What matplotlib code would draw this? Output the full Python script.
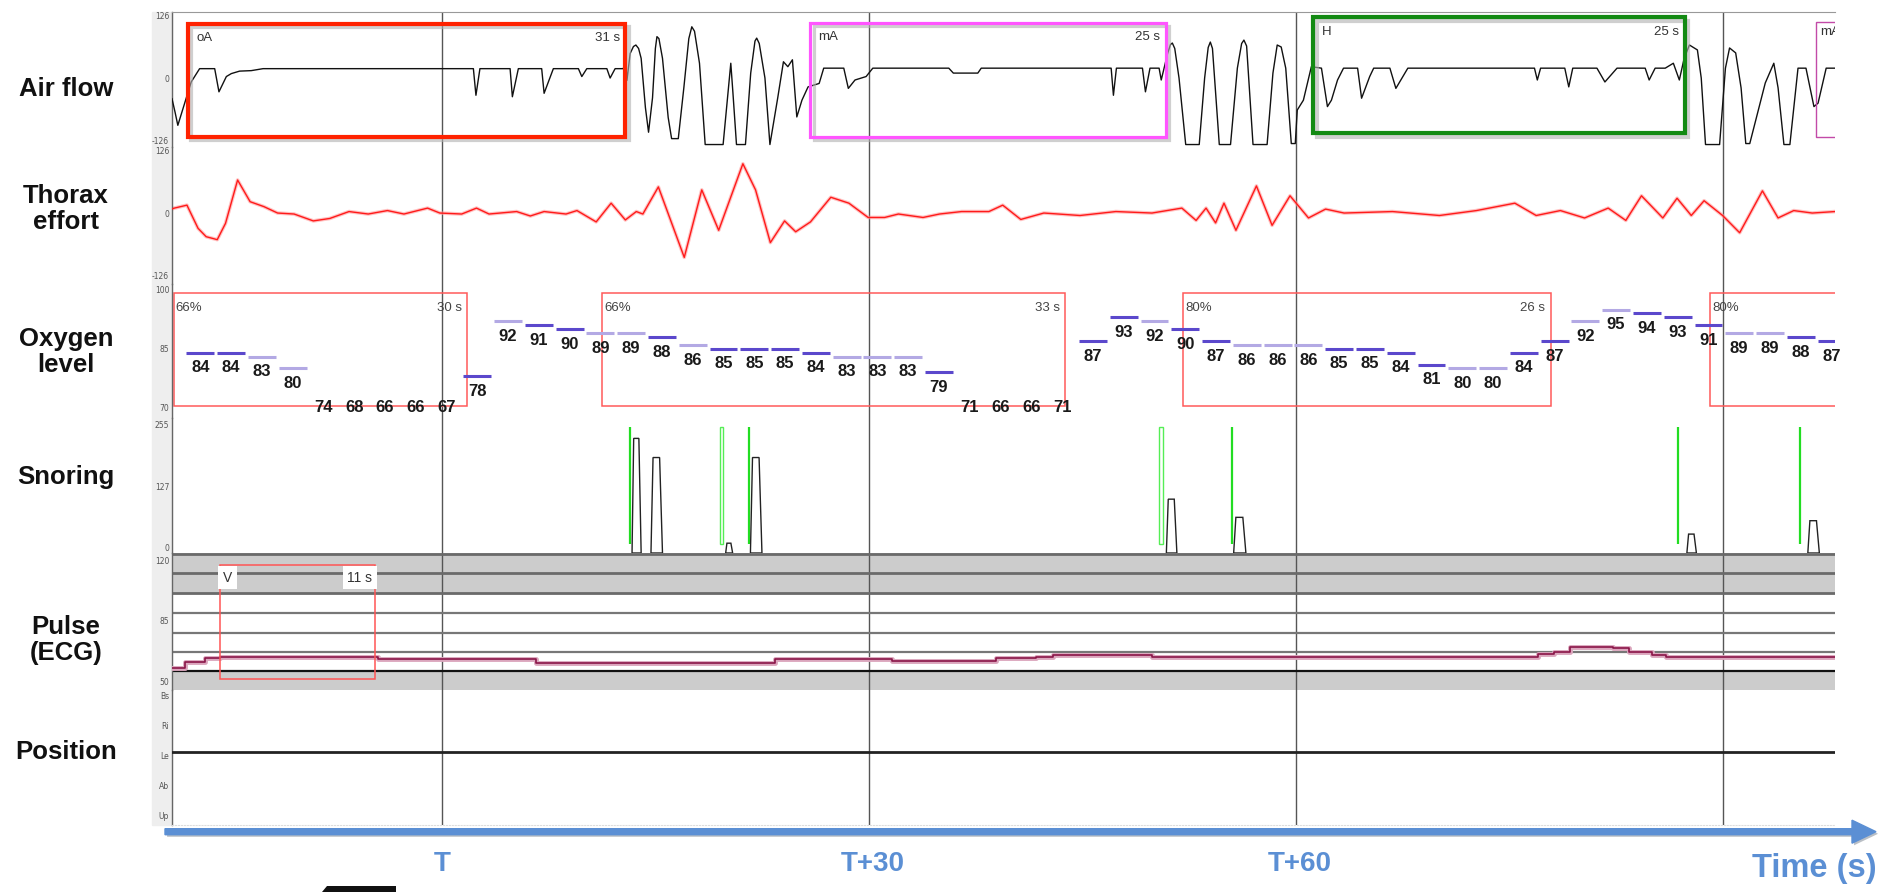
import numpy as np
import matplotlib
matplotlib.use("Agg")
import matplotlib.pyplot as plt
from matplotlib.patches import Rectangle, Polygon, FancyArrow
import matplotlib.patheffects as pe
import matplotlib.transforms as mtransforms

# ---------------- data ----------------
grid_times = [0, 30, 60, 90]
time_tick_t = [0, 30, 60]
time_tick_labels = ["T", "T+30", "T+60"]

airflow_t = [-18.97, -18.75, -18.56, -17.62, -17.03, -15.97, -15.67, -15.15, -14.80, -14.22, -13.4, -12.57,
             2.21, 2.39, 2.67, 4.79, 4.95, 5.37, 7.01, 7.18, 7.83, 9.59, 9.83, 10.18, 11.59, 11.82, 12.17,
             12.75, 12.9, 13.0, 13.23, 13.46, 13.63, 13.82, 14.0, 14.3, 14.52, 14.8, 15.0, 15.11, 15.25, 15.5,
             15.9, 16.14, 16.61, 17.0, 17.35, 17.56, 17.75, 18.1, 18.50, 19.76, 20.1, 20.30, 20.45, 20.70,
             21.33, 21.7, 22.0, 22.12, 22.3, 22.7, 23.05, 23.6, 24.0, 24.31, 24.63, 24.94, 25.3, 25.73,
             26.51, 26.83, 28.24, 28.56, 29.03, 29.81, 30.28, 35.62, 35.94, 37.66, 37.9, 47.03, 47.19, 47.40,
             49.23, 49.44, 49.76, 50.4, 50.55, 51.0, 51.2, 51.33, 51.5, 51.8, 52.27, 53.22, 53.6, 53.85, 54.0,
             54.15, 54.63, 55.42, 55.9, 56.2, 56.36, 56.55, 57.0, 57.99, 58.4, 58.70, 58.98, 59.3, 59.69,
             59.97, 60.11, 60.54, 61.10, 61.81, 62.23, 62.51, 62.94, 63.36, 64.35, 64.63, 65.20, 65.48, 66.62,
             67.04, 67.88, 76.78, 76.98, 77.21, 78.91, 79.19, 79.47, 81.17, 81.73, 82.58, 84.56, 84.84, 85.26,
             85.97, 86.54, 86.96, 87.3, 87.67, 88.23, 88.5, 88.80, 89.79, 90.2, 90.49, 90.92, 91.3, 91.63,
             91.91, 93.0, 93.60, 93.9, 94.31, 94.73, 95.30, 95.86, 96.42, 96.71, 97.28, 97.9]
airflow_v = [-42, -70, -96, -8, 19, 19, -28, 3, 9, 14, 15, 19,
             19, -35, 19, 19, -38, 19, 19, -31, 19, 19, 3, 19, 19, 0, 19,
             19, 40, -5, 50, 64, 67, 60, 40, -60, -110, -40, 60, 84, 80, 40,
             -80, -123, -123, -20, 80, 104, 95, 30, -135, -135, -30, 30, -30, -135,
             -135, 10, 75, 81, 70, 0, -135, -40, 33, 23, 37, -79, -45, -18,
             -11, 20, 20, -21, -4, 3, 20, 20, 10, 10, 20, 20, -35, 20,
             20, -28, 20, 20, -4, 50, 68, 71, 60, 0, -135, -135, 0, 62, 73,
             60, -135, -135, 20, 70, 77, 65, -135, -135, 10, 67, 63, 20, -133,
             -133, -65, -45, 23, 20, -58, -45, -4, 20, 20, -41, 3, 20, 20,
             -21, 20, 20, -4, 20, 20, -18, 20, 20, -8, 20, 20, -4, 20,
             20, 30, -4, 40, 67, 57, 0, -135, -135, 20, 61, 51, -20, -133,
             -133, -10, 30, -20, -135, -135, 20, 20, -58, -51, 20, 20]

thorax_t = [-18.97, -18.88, -17.92, -17.14, -16.57, -15.79, -15.21, -14.36, -13.48, -12.51, -11.55, -10.39,
            -9.04, -7.88, -6.53, -5.18, -3.83, -2.67, -1.01, -0.15, 1.39, 2.43, 3.31, 5.25, 6.21, 7.18,
            8.72, 9.49, 10.84, 11.89, 12.89, 13.66, 14.12, 15.21, 17.03, 18.26, 19.45, 21.15, 22.04, 23.08,
            24.08, 24.86, 25.90, 27.33, 28.60, 29.95, 31.11, 32.08, 33.81, 34.97, 36.52, 38.44, 39.41, 40.68,
            42.3, 44.84, 47.36, 49.9, 52.0, 53.0, 53.7, 54.37, 54.96, 55.8, 57.24, 58.34, 59.6, 60.9, 62.1,
            63.4, 66.8, 70.1, 72.7, 75.4, 76.9, 78.6, 80.3, 81.96, 83.2, 84.3, 85.8, 86.8, 87.8, 88.7, 90.0,
            91.2, 92.8, 93.9, 95.0, 96.3, 97.9]
thorax_v = [8, 9.5, 16, -31, -48, -54, -21, 67, 23, 13, 0, -2,
            -16, -11, 3, -2, 5, -2, 10, 0, -2, 10, -2, 3, -6, 3,
            -2, 5, -18, 20, -14, 3, -2, 53, -90, 47, -35, 100, 47, -60,
            -16, -38, -18, 32, 20, -9, -9, -2, -9, -2, 3, 3, 16, -13,
            0, -5, 3, 0, 10, -15, 10, -20, 20, -35, 55, -25, 35, -10, 8,
            0, 3, -5, 5, 20, -5, 5, -10, 10, -15, 35, -10, 30, -5, 25, -5,
            -40, 45, -10, 5, 0, 3]

spo2_start, spo2_step = -16.98, 2.163
spo2_values = [84, 84, 83, 80, 74, 68, 66, 66, 67, 78, 92, 91, 90, 89, 89, 88, 86, 85, 85, 85,
               84, 83, 83, 83, 79, 71, 66, 66, 71, 87, 93, 92, 90, 87, 86, 86, 86, 85, 85, 84,
               81, 80, 80, 84, 87, 92, 95, 94, 93, 91, 89, 89, 88, 87]
spo2_dark = [1, 1, 0, 0, 0, 0, 0, 0, 0, 1, 0, 1, 1, 0, 0, 1, 0, 1, 1, 1,
             1, 0, 0, 0, 1, 0, 0, 0, 0, 1, 1, 0, 1, 1, 0, 0, 0, 1, 1, 1,
             1, 0, 0, 1, 1, 0, 0, 1, 1, 1, 0, 0, 1, 1]

desat_start = [-18.85, 11.25, 52.08, 89.15]
desat_end = [1.79, 43.8, 77.92, 99.0]
desat_pct = ["66%", "66%", "80%", "80%"]
desat_dur = ["30 s", "33 s", "26 s", ""]

resp_start = [-17.85, 25.88, 61.22, 96.55]
resp_end = [12.88, 50.86, 87.33, 99.0]
resp_low = [-119, -119, -112, -119]
resp_high = [110, 112, 123, 114]
resp_type = ["oA", "mA", "H", "mA"]
resp_dur = ["31 s", "25 s", "25 s", ""]
resp_color = ["#ff2200", "#ff55ff", "#138a13", "#c24aa8"]
resp_lw = [3.0, 2.3, 3.0, 1.0]

snore_start = [13.36, 14.69, 19.94, 21.68, 50.91, 55.64, 87.49, 95.99]
snore_end = [14.00, 15.50, 20.43, 22.49, 51.65, 56.50, 88.16, 96.80]
snore_peak = [227, 187, 8, 187, 100, 62, 27, 55]
snore_mark_t = [13.20, 19.66, 21.56, 50.53, 55.52, 86.86, 95.43]
snore_mark_hollow = [0, 1, 0, 1, 0, 0, 0]

pulse_t = [-18.97, -18.03, -16.62, -15.6, -4.5, 6.62, 23.38, 31.66, 38.94, 41.76, 42.97, 49.87,
           77.06, 78.18, 79.30, 82.28, 83.39, 85.07, 86.0, 97.9]
pulse_v = [57.4, 61.2, 63.1, 64.1, 62.6, 60.6, 62.6, 61.8, 63.1, 64.1, 65.1, 63.7,
           65.5, 67.0, 69.9, 68.9, 67.0, 65.1, 63.7, 63.7]
pulse_event = (-15.6, -4.69, 51.0, 117.1, "V", "11 s")

pos_levels = ["Up", "Ab", "Le", "Ri", "Bs"]
pos_t = [-18.97, 97.9]
pos_v = ["Le", "Le"]

channel_names = ["Air flow", "Thorax\neffort", "Oxygen\nlevel", "Snoring", "Pulse\n(ECG)", "Position"]

# ---------------- figure ----------------
W, H = 1880, 892
fig = plt.figure(figsize=(W / 100, H / 100), dpi=100)
fig.patch.set_facecolor("white")
X0, X1 = 172, 1835
T0, T1 = -18.97, 97.9
SANS = "Liberation Sans"


def add_panel(top, bottom, ylim, ticks, labels):
    ax = fig.add_axes([X0 / W, 1 - bottom / H, (X1 - X0) / W, (bottom - top) / H])
    ax.set_xlim(T0, T1)
    ax.set_ylim(*ylim)
    ax.set_xticks([])
    ax.set_yticks(ticks)
    ax.set_yticklabels(labels, fontsize=5.5, color="#555555", family="DejaVu Sans")
    ax.tick_params(axis="y", length=0, pad=2)
    ax.patch.set_alpha(0)
    for s in ["top", "right", "bottom"]:
        ax.spines[s].set_visible(False)
    ax.spines["left"].set_color("#666666")
    ax.spines["left"].set_linewidth(1.0)
    for t in grid_times:
        ax.axvline(t, color="#555555", lw=1.0, zorder=1)
    return ax


# tick-label column background
fig.patches.append(Rectangle((152 / W, 1 - 825 / H), 20 / W, (825 - 12) / H,
                             transform=fig.transFigure, color="#eeeeee", zorder=-5))


def boxed(ax, x, y, w, h, color, lw, shadow):
    if shadow:
        off = mtransforms.ScaledTranslation(2.5 / 72, -2.5 / 72, fig.dpi_scale_trans)
        ax.add_patch(Rectangle((x, y), w, h, fill=False, edgecolor="#b0b0b0", lw=lw, alpha=0.6,
                               transform=ax.transData + off, zorder=3.5))
    ax.add_patch(Rectangle((x, y), w, h, fill=False, edgecolor=color, lw=lw, zorder=4))


# ---- Air flow ----
ax_air = add_panel(12, 147, (-140, 134), [126, 0, -126], ["126", "0", "-126"])
ax_air.spines["top"].set_visible(True)
ax_air.spines["top"].set_color("#999999")
ax_air.plot(airflow_t, airflow_v, color="#111111", lw=1.0, zorder=3)
for s, e, lo, hi, ty, du, c, lw in zip(resp_start, resp_end, resp_low, resp_high, resp_type,
                                        resp_dur, resp_color, resp_lw):
    boxed(ax_air, s, lo, e - s, hi - lo, c, lw, lw > 2)
    off = 6 if lw > 2 else 3
    ax_air.annotate(ty, (s, hi), xytext=(off, -off), textcoords="offset points", ha="left", va="top",
                    fontsize=9.5, color="#333333", family=SANS, annotation_clip=False, clip_on=True)
    if du:
        ax_air.annotate(du, (e, hi), xytext=(-4, -off), textcoords="offset points", ha="right", va="top",
                        fontsize=9.5, color="#333333", family=SANS)

# ---- Thorax ----
ax_thx = add_panel(147, 284, (-144, 134), [126, 0, -126], ["126", "0", "-126"])
ax_thx.plot(thorax_t, thorax_v, color="#ff9a9a", lw=2.6, alpha=0.6, zorder=2)
ax_thx.plot(thorax_t, thorax_v, color="#ff1a1a", lw=1.0, zorder=3)

# ---- Oxygen ----
ax_oxy = add_panel(284, 418, (67.4, 101.5), [100, 85, 70], ["100", "85", "70"])
for s, e, p, d in zip(desat_start, desat_end, desat_pct, desat_dur):
    ax_oxy.add_patch(Rectangle((s, 70.4), e - s, 99.3 - 70.4, fill=False, edgecolor="#ff5a5a", lw=1.1, zorder=2))
    ax_oxy.annotate(p, (s, 99.3), xytext=(1.5, -6.5), textcoords="offset points", ha="left", va="top",
                    fontsize=9.5, color="#444444", family=SANS)
    if d:
        ax_oxy.annotate(d, (e, 99.3), xytext=(-4, -6.5), textcoords="offset points", ha="right", va="top",
                        fontsize=9.5, color="#444444", family=SANS)
for i, (v, dk) in enumerate(zip(spo2_values, spo2_dark)):
    t = spo2_start + i * spo2_step
    yv = max(v, 74)
    if v >= 75:
        ax_oxy.hlines(v, t - 0.98, t + 0.98, colors="#5b48cc" if dk else "#b3a9e4", lw=2.2, zorder=3)
    ax_oxy.annotate(str(v), (t, yv), xytext=(0, -5.5), textcoords="offset points", ha="center", va="top",
                    fontsize=12, fontweight="bold", color="#1a1a1a", family=SANS, zorder=4)

# ---- Snoring ----
ax_snr = add_panel(418, 553, (-12.5, 269.6), [255, 127, 0], ["255", "127", "0"])
for t, hol in zip(snore_mark_t, snore_mark_hollow):
    if hol:
        ax_snr.add_patch(Rectangle((t - 0.12, 6), 0.24, 245, fill=False, edgecolor="#55ee55", lw=1.0, zorder=3))
    else:
        ax_snr.vlines(t, 6, 251, colors="#22dd22", lw=1.6, zorder=3)
for s, e, p in zip(snore_start, snore_end, snore_peak):
    w = e - s
    poly = Polygon([(s, -12.5), (s + 0.18 * w, p), (e - 0.25 * w, p), (e, -12.5)], closed=True,
                   facecolor="white", edgecolor="#222222", lw=1.0, zorder=4)
    ax_snr.add_patch(poly)

# ---- Pulse ----
ax_pul = add_panel(553, 690, (44.8, 124.05), [120, 85, 50], ["120", "85", "50"])
ax_pul.axhspan(100.9, 124.05, color="#cccccc", zorder=0)
ax_pul.axhspan(44.8, 56.0, color="#cccccc", zorder=0)
for y in [123.2, 112.3, 101.1]:
    ax_pul.axhline(y, color="#6a6a6a", lw=2.0, zorder=1)
for y in [89.5, 78.0, 67.0]:
    ax_pul.axhline(y, color="#777777", lw=1.6, zorder=1)
ax_pul.axhline(56.0, color="#111111", lw=1.6, zorder=1)
ax_pul.step(pulse_t, pulse_v, where="post", color="#dba6bd", lw=3.5, zorder=3)
ax_pul.step(pulse_t, pulse_v, where="post", color="#8a1548", lw=1.2, zorder=4)
ps, pe_, plo, phi, plab, pdur = pulse_event
ax_pul.add_patch(Rectangle((ps, plo), pe_ - ps, phi - plo, fill=False, edgecolor="#ff5555", lw=1.1, zorder=5))
ax_pul.annotate(plab, (ps, phi), xytext=(2, -4), textcoords="offset points", ha="left", va="top",
                fontsize=10, color="#333333", family=SANS, zorder=6,
                bbox=dict(boxstyle="square,pad=0.35", fc="white", ec="none"))
ax_pul.annotate(pdur, (pe_, phi), xytext=(-2, -4), textcoords="offset points", ha="right", va="top",
                fontsize=10, color="#333333", family=SANS, zorder=6,
                bbox=dict(boxstyle="square,pad=0.35", fc="white", ec="none"))

# ---- Position ----
ax_pos = add_panel(690, 825, (-0.433, 4.067), list(range(len(pos_levels))), pos_levels)
for lab in ax_pos.get_yticklabels():
    lab.set_verticalalignment("top")
ax_pos.spines["bottom"].set_visible(True)
ax_pos.spines["bottom"].set_color("#dddddd")
ax_pos.spines["bottom"].set_linestyle(":")
ax_pos.plot(pos_t, [pos_levels.index(p) for p in pos_v], color="#222222", lw=2.0, zorder=3)

# ---- channel names ----
name_y = [89, 209, 352, 477, 640, 752]
for nm, y in zip(channel_names, name_y):
    fig.text(66 / W, 1 - y / H, nm, ha="center", va="center", fontsize=18.5, fontweight="bold",
             family=SANS, color="#111111", linespacing=1.1)

# ---- time arrow & labels ----
blue = "#5b8fd4"
arrow = FancyArrow(1.65, (H - 831.7) / 100, 18.76 - 1.65, 0, width=0.06, head_width=0.23, head_length=0.24,
                   length_includes_head=True, color=blue, transform=fig.dpi_scale_trans,
                   path_effects=[pe.SimplePatchShadow(offset=(1.5, -1.5), alpha=0.3), pe.Normal()])
fig.patches.append(arrow)
trans = mtransforms.blended_transform_factory(ax_pos.transData, fig.transFigure)
for t, lab in zip(time_tick_t, time_tick_labels):
    ax_pos.annotate(lab, (t, 1 - 864 / H), xycoords=trans, xytext=(0 if t == 0 else 3, 0),
                    textcoords="offset points", ha="center", va="center", fontsize=20, fontweight="bold",
                    color=blue, family=SANS, annotation_clip=False)
fig.text(1877 / W, 1 - 868 / H, "Time (s)", ha="right", va="center", fontsize=23.5, fontweight="bold",
         color=blue, family=SANS)

fig.patches.append(Polygon([(3.22, 0.0), (3.27, 0.06), (3.96, 0.06), (3.96, 0.0)], closed=True,
                           facecolor="#111111", transform=fig.dpi_scale_trans))

fig.savefig("out.png", dpi=100, facecolor="white")
